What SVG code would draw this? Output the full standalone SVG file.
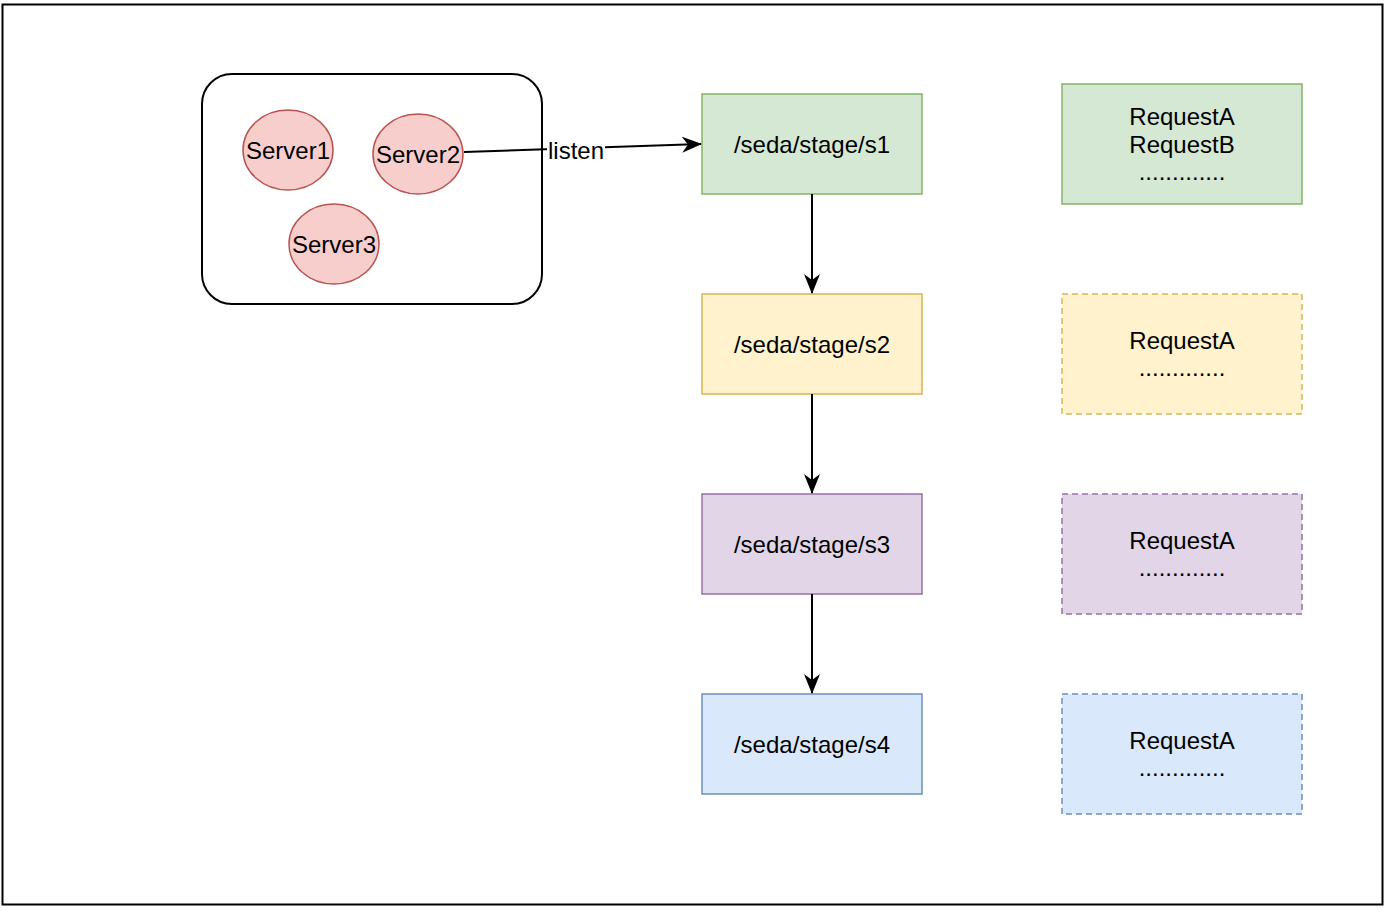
<svg xmlns="http://www.w3.org/2000/svg" width="1396" height="912" viewBox="0 0 1396 912">
<defs>
<marker id="arr" viewBox="0 0 20 20" refX="19" refY="10" markerWidth="20" markerHeight="20" markerUnits="userSpaceOnUse" orient="auto">
<path d="M0,2 L20,10 L0,18 L6,10 Z" fill="#000"/>
</marker>
<style>
text{font-family:"Liberation Sans",Arial,sans-serif;font-size:24px;fill:#000;text-anchor:middle}
.green{fill:#d5e8d4;stroke:#82b366;stroke-width:1.5}
.yellow{fill:#fff2cc;stroke:#d6b656;stroke-width:1.5}
.purple{fill:#e1d5e7;stroke:#9673a6;stroke-width:1.5}
.blue{fill:#dae8fc;stroke:#6c8ebf;stroke-width:1.5}
.dash{stroke-dasharray:6 4}
.srv{fill:#f8cecc;stroke:#b85450;stroke-width:1.5}
.conn{stroke:#000;stroke-width:2;fill:none;marker-end:url(#arr)}
</style>
</defs>
<rect x="0" y="0" width="1396" height="912" fill="#fff"/>
<rect id="frame" x="2.5" y="4.5" width="1380" height="900" fill="#fff" stroke="#000" stroke-width="2"/>
<g id="cluster"><rect x="202" y="74" width="340" height="230" rx="30" fill="#fff" stroke="#000" stroke-width="2"/></g>
<g id="server1"><ellipse class="srv" cx="288" cy="150" rx="45" ry="40"/><text x="288" y="159">Server1</text></g>
<g id="server2"><ellipse class="srv" cx="418" cy="154" rx="45" ry="40"/><text x="418" y="163">Server2</text></g>
<g id="server3"><ellipse class="srv" cx="334" cy="244" rx="45" ry="40"/><text x="334" y="253">Server3</text></g>
<g id="s1"><rect class="green" x="702" y="94" width="220" height="100"/><text x="812" y="153">/seda/stage/s1</text></g>
<g id="s2"><rect class="yellow" x="702" y="294" width="220" height="100"/><text x="812" y="353">/seda/stage/s2</text></g>
<g id="s3"><rect class="purple" x="702" y="494" width="220" height="100"/><text x="812" y="553">/seda/stage/s3</text></g>
<g id="s4"><rect class="blue" x="702" y="694" width="220" height="100"/><text x="812" y="753">/seda/stage/s4</text></g>
<g id="q1"><rect class="green" x="1062" y="84" width="240" height="120"/><text x="1182" y="125">RequestA</text><text x="1182" y="153">RequestB</text><text x="1182" y="180">.............</text></g>
<g id="q2"><rect class="yellow dash" x="1062" y="294" width="240" height="120"/><text x="1182" y="349">RequestA</text><text x="1182" y="376">.............</text></g>
<g id="q3"><rect class="purple dash" x="1062" y="494" width="240" height="120"/><text x="1182" y="549">RequestA</text><text x="1182" y="576">.............</text></g>
<g id="q4"><rect class="blue dash" x="1062" y="694" width="240" height="120"/><text x="1182" y="749">RequestA</text><text x="1182" y="776">.............</text></g>
<g id="connectors">
<path class="conn" d="M464,152 L701,144"/>
<rect x="547" y="138" width="58" height="26" fill="#fff"/>
<text x="576" y="159">listen</text>
<path class="conn" d="M812,194 L812,293"/>
<path class="conn" d="M812,394 L812,493"/>
<path class="conn" d="M812,594 L812,693"/>
</g>
</svg>
